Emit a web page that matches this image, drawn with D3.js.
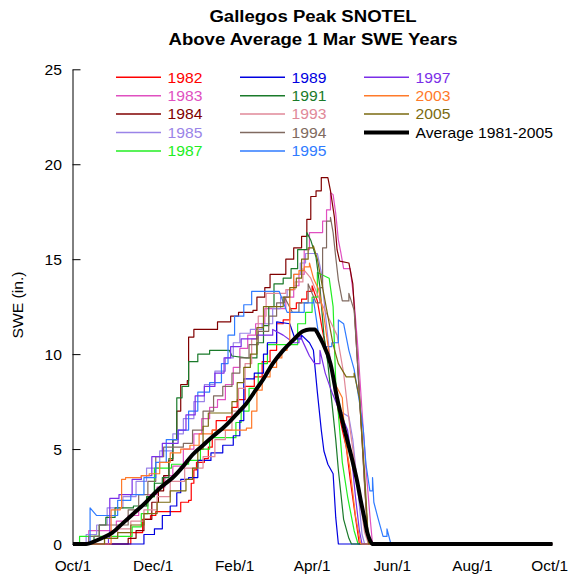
<!DOCTYPE html>
<html>
<head>
<meta charset="utf-8">
<script src="https://cdn.jsdelivr.net/npm/d3@7"></script>
<style>
  body { margin: 0; background: #fff; }
  svg { display: block; font-family: "Liberation Sans", Arial, Helvetica, sans-serif; }
</style>
</head>
<body>
<svg id="chart" width="569" height="577"></svg>
<script>
// Snow water equivalent (in.) by day of water year (day 0 = Oct 1).
const y1982 = [[0,0],[43,0],[44,0.6],[52,0.6],[53,1.3],[59,1.5],[63,1.7],[81,1.7],[82,2.2],[88,2.3],[90,3.2],[92,3.9],[94,4.3],[100,4.5],[103,5.1],[106,6.0],[109,6.5],[117,6.7],[121,7.2],[125,7.6],[131,8.3],[138,8.8],[144,9.6],[150,10.2],[155,11.6],[160,11.8],[165,12.4],[170,12.7],[174,12.9],[178,13.3],[182,13.6],[186,12.8],[190,11.2],[194,9.8],[198,8.8],[202,7.0],[205,6.0],[208,5.1],[211,3.4],[215,1.4],[218,0],[365,0]];
const y1983 = [[0,0],[10,0],[12,0.7],[30,0.7],[33,1.2],[42,1.5],[50,2.0],[57,2.6],[64,3.0],[70,3.6],[76,4.1],[84,5.0],[92,5.8],[98,6.6],[104,7.2],[110,7.6],[116,8.4],[122,9.3],[127,10.3],[133,11.0],[139,11.6],[146,12.4],[157,12.4],[162,13.0],[168,13.6],[172,14.2],[176,15.5],[180,16.4],[186,16.4],[190,17.0],[193,17.6],[196,18.5],[198,18.4],[200,17.4],[202,16.0],[204,15.3],[206,14.5],[211,14.5],[214,12.8],[217,10.2],[220,7.0],[223,4.0],[226,1.5],[228,0],[365,0]];
const y1984 = [[0,0],[41,0],[42,0.3],[48,0.7],[54,1.3],[60,2.2],[65,2.8],[69,3.6],[73,4.4],[76,5.5],[79,7.0],[82,8.4],[87,8.6],[88,10.9],[92,11.3],[106,11.3],[110,11.7],[120,12.0],[126,12.2],[137,12.3],[140,13.0],[146,13.5],[150,14.2],[159,14.2],[162,15.0],[168,15.6],[174,16.2],[178,17.1],[181,18.3],[185,18.6],[189,19.3],[194,19.3],[196,18.6],[199,17.2],[201,15.5],[203,14.9],[210,14.8],[213,13.7],[216,10.2],[220,5.5],[223,2.0],[225,0],[365,0]];
const y1985 = [[0,0],[8,0],[10,0.5],[18,1.0],[26,1.9],[38,2.5],[48,3.3],[56,4.0],[66,4.9],[76,5.8],[84,6.6],[92,7.5],[100,8.4],[108,9.1],[116,9.8],[122,10.6],[127,11.1],[135,11.3],[144,11.6],[152,12.4],[158,13.0],[163,13.4],[168,14.2],[173,14.8],[177,15.3],[186,15.3],[189,14.3],[192,12.2],[195,10.2],[199,8.0],[203,7.0],[210,6.7],[213,5.5],[217,2.8],[220,0.5],[222,0],[365,0]];
const y1987 = [[0,0],[4,0],[5,0.4],[40,0.4],[45,0.9],[52,1.6],[57,2.5],[62,4.0],[75,4.2],[88,4.4],[97,5.0],[104,5.6],[118,5.6],[124,6.4],[128,7.0],[134,8.2],[141,9.5],[148,10.5],[166,10.5],[171,11.6],[177,12.2],[182,13.0],[186,14.3],[195,14.0],[198,12.5],[200,8.5],[203,6.0],[205,4.3],[209,2.5],[214,0.7],[217,0],[365,0]];
const y1989 = [[0,0],[50,0],[54,0.5],[62,0.8],[68,1.5],[74,2.0],[79,2.7],[82,3.4],[88,3.5],[95,4.4],[105,4.8],[114,5.2],[122,5.7],[127,6.5],[130,8.7],[138,9.0],[145,10.0],[148,10.6],[155,11.7],[165,11.6],[169,10.8],[174,11.0],[180,10.6],[183,10.2],[186,8.0],[189,6.0],[191,4.9],[194,4.2],[198,3.7],[200,1.4],[202,0],[365,0]];
const y1991 = [[0,0],[15,0],[16,0.4],[20,1.0],[25,1.4],[32,1.9],[46,2.0],[56,2.5],[62,3.2],[68,3.5],[73,4.5],[76,5.5],[79,7.7],[83,8.3],[88,9.6],[95,10.0],[104,10.2],[119,10.2],[121,9.9],[132,9.8],[140,10.6],[145,11.5],[149,12.5],[153,13.7],[160,14.0],[166,14.5],[171,15.5],[178,16.4],[181,16.0],[185,15.1],[188,13.5],[191,11.0],[194,9.5],[197,7.5],[200,5.5],[202,3.9],[206,1.3],[210,0.3],[212,0],[365,0]];
const y1993 = [[0,0],[20,0],[24,0.3],[34,0.8],[44,1.2],[54,1.8],[64,2.5],[74,3.3],[85,4.0],[99,4.6],[108,5.5],[116,6.0],[121,7.0],[126,8.2],[131,9.5],[136,10.8],[141,12.0],[147,13.2],[155,13.2],[162,13.4],[169,13.8],[175,14.5],[181,14.0],[187,13.0],[194,12.0],[201,11.0],[206,9.0],[211,6.0],[217,3.0],[222,0.6],[225,0],[365,0]];
const y1994 = [[0,0],[10,0],[12,0.4],[20,1.0],[38,1.0],[42,1.8],[50,2.6],[57,3.3],[63,4.6],[69,5.1],[84,5.3],[91,6.0],[99,7.0],[107,7.8],[114,8.3],[121,9.0],[127,9.8],[134,10.5],[141,11.2],[149,12.0],[155,12.7],[161,13.0],[167,12.2],[172,12.7],[179,13.7],[185,12.7],[188,13.5],[190,15.6],[193,17.0],[196,17.2],[198,16.4],[200,15.1],[202,13.9],[205,12.8],[210,13.2],[214,12.3],[218,8.0],[222,3.0],[225,0],[365,0]];
const y1995 = [[0,0],[12,0],[13,1.9],[18,1.5],[30,1.5],[34,2.3],[44,2.6],[54,3.5],[63,4.3],[71,5.5],[80,6.0],[88,7.0],[95,8.0],[104,8.5],[113,9.5],[118,11.0],[123,12.0],[130,12.6],[136,13.3],[157,13.3],[163,12.2],[172,12.2],[176,12.7],[183,12.9],[187,11.0],[192,10.4],[197,10.6],[202,11.8],[206,11.6],[210,10.2],[214,9.2],[218,7.5],[221,6.0],[223,4.2],[226,2.8],[228,3.5],[229,2.2],[232,1.4],[236,0.4],[239,0.8],[242,0],[365,0]];
const y1997 = [[0,0],[26,0],[27,0.3],[28,2.4],[35,2.6],[45,3.4],[52,3.6],[60,4.6],[68,5.3],[80,6.0],[86,6.8],[93,7.8],[100,8.3],[108,9.0],[115,9.8],[120,10.4],[128,10.8],[140,11.0],[152,11.3],[160,11.0],[168,10.6],[172,11.1],[176,10.5],[180,9.9],[184,9.5],[188,10.2],[192,9.0],[197,8.0],[203,7.0],[209,6.0],[212,4.6],[215,2.5],[218,0.7],[220,0],[365,0]];
const y2003 = [[0,0],[28,0],[29,1.8],[36,1.9],[37,3.4],[40,3.5],[52,3.6],[58,3.7],[66,4.3],[74,4.8],[82,5.0],[89,5.2],[96,5.8],[106,6.0],[132,6.1],[136,7.0],[140,8.1],[144,8.8],[150,9.3],[155,9.8],[159,10.2],[163,10.5],[165,13.4],[168,14.2],[172,14.4],[176,14.6],[180,14.8],[183,14.0],[187,13.4],[191,12.0],[195,10.0],[199,8.5],[205,7.7],[207,5.5],[211,3.9],[215,1.5],[219,0],[365,0]];
const y2005 = [[0,0],[20,0],[24,0.3],[34,0.6],[44,1.0],[54,1.6],[64,2.2],[74,2.8],[86,3.4],[91,4.0],[95,5.0],[99,6.2],[103,6.9],[117,6.9],[121,7.5],[125,8.5],[130,9.3],[135,10.0],[140,11.4],[145,12.5],[152,12.5],[160,13.0],[165,13.5],[170,14.0],[174,15.0],[179,15.6],[183,15.7],[186,15.0],[190,13.5],[194,12.0],[198,10.5],[202,9.5],[208,8.8],[214,9.0],[218,7.7],[222,3.7],[225,0],[365,0]];
const average = [[0,0],[10,0],[13,0.05],[20,0.25],[30,0.6],[38,1.1],[46,1.6],[54,2.1],[61,2.6],[68,3.05],[76,3.5],[84,4.1],[91,4.7],[99,5.2],[107,5.7],[114,6.1],[120,6.5],[126,6.95],[132,7.4],[139,8.1],[145,8.7],[152,9.5],[160,10.2],[167,10.7],[175,11.2],[180,11.3],[184,11.3],[187,11.0],[190,10.6],[196,9.5],[201,7.7],[205,6.5],[209,5.4],[213,4.3],[216,3.4],[219,2.3],[222,1.3],[224,0.6],[226,0.2],[228,0],[365,0]];

const yearNames  = ["1982","1983","1984","1985","1987","1989","1991","1993","1994","1995","1997","2003","2005"];
const yearData   = [y1982, y1983, y1984, y1985, y1987, y1989, y1991, y1993, y1994, y1995, y1997, y2003, y2005];
const yearColors = ["#ff0000","#e050c0","#800000","#9a84e8","#22ee22","#0000e0","#1a7a2a","#e08898","#806a60","#2f7bff","#7a2ee8","#ff7a2a","#7a6a10"];
const averageName = "Average 1981-2005";

const xTickDays   = [0, 61, 123, 182, 243, 304, 365];
const xTickLabels = ["Oct/1","Dec/1","Feb/1","Apr/1","Jun/1","Aug/1","Oct/1"];
const yTicks      = [0, 5, 10, 15, 20, 25];

const svg = d3.select("#chart");
const x = d3.scaleLinear().domain([0, 365]).range([73, 552.5]);
const y = d3.scaleLinear().domain([0, 25]).range([544, 69.3]);

// Text is drawn slightly widened horizontally.
function label(g, str, px, py, opts = {}) {
  const sx = opts.sx || 1.12;
  return g.append("text")
    .attr("transform", `translate(${px},${py})${opts.rotate ? " rotate(" + opts.rotate + ")" : ""} scale(${sx},1)`)
    .attr("text-anchor", opts.anchor || "start")
    .attr("font-size", opts.size || 14)
    .attr("font-weight", opts.weight || "normal")
    .attr("fill", opts.fill || "#000")
    .text(str);
}

// Curve: accumulation is drawn as a hold-then-jump step, melt as a straight decline.
function curveSnow(context) {
  let first = true, py = 0;
  return {
    areaStart() {}, areaEnd() {},
    lineStart() { first = true; },
    lineEnd() {},
    point(px, pyNew) {
      px = +px; pyNew = +pyNew;
      if (first) { context.moveTo(px, pyNew); first = false; }
      else if (pyNew < py) { context.lineTo(px, py); context.lineTo(px, pyNew); }
      else { context.lineTo(px, pyNew); }
      py = pyNew;
    }
  };
}

// Title
const title = svg.append("g");
label(title, "Gallegos Peak SNOTEL", 313, 21.5, {anchor: "middle", size: 16, weight: "bold", sx: 1.16});
label(title, "Above Average 1 Mar SWE Years", 313, 44.5, {anchor: "middle", size: 16, weight: "bold", sx: 1.16});

// Y axis with inward ticks
const yAxis = svg.append("g").attr("transform", "translate(72.5,0)")
  .call(d3.axisRight(y).tickValues(yTicks).tickSize(8).tickSizeOuter(0).tickFormat(""));
yAxis.select(".domain").attr("stroke", "#000").attr("stroke-width", 1);
yAxis.selectAll(".tick line").attr("stroke", "#000").attr("stroke-width", 1);
const yLab = svg.append("g");
yTicks.forEach(v => label(yLab, String(v), 62, y(v) + 5.5, {anchor: "end"}));
label(svg, "SWE (in.)", 23, 305, {anchor: "middle", rotate: -90, sx: 1.12});

// X tick labels (no axis line); the last one is kept inside the frame
const xLab = svg.append("g");
xTickDays.forEach((d, i) => {
  const last = i === xTickDays.length - 1;
  label(xLab, xTickLabels[i], last ? 568 : x(d), 571,
        {anchor: last ? "end" : "middle", size: 14.5, sx: 1.06});
});

// Series
const snowLine = d3.line().x(d => x(d[0])).y(d => y(d[1])).curve(curveSnow);
const smoothLine = d3.line().x(d => x(d[0])).y(d => y(d[1])).curve(d3.curveMonotoneX);

const plot = svg.append("g");
yearData.forEach((data, i) => {
  plot.append("path").datum(data)
    .attr("d", snowLine)
    .attr("fill", "none")
    .attr("stroke", yearColors[i])
    .attr("stroke-width", 1.2)
    .attr("stroke-linejoin", "round");
});
plot.append("path").datum(average)
  .attr("d", smoothLine)
  .attr("fill", "none")
  .attr("stroke", "#000")
  .attr("stroke-width", 4)
  .attr("stroke-linejoin", "round")
  .attr("stroke-linecap", "butt");

// Legend: three columns
const legend = svg.append("g");
const colX = [116, 240, 364];
const rowY0 = 77.3, rowStep = 18.4;
const entries = yearNames.map((n, i) => ({name: n, color: yearColors[i], width: 1.5}));
entries.push({name: averageName, color: "#000", width: 4});
entries.forEach((e, i) => {
  const col = Math.floor(i / 5), row = i % 5;
  const ly = rowY0 + row * rowStep;
  legend.append("line")
    .attr("x1", colX[col]).attr("x2", colX[col] + 45)
    .attr("y1", ly).attr("y2", ly)
    .attr("stroke", e.color).attr("stroke-width", e.width);
  label(legend, e.name, colX[col] + 51.5, ly + 5.2, {fill: e.color});
});
</script>
</body>
</html>
